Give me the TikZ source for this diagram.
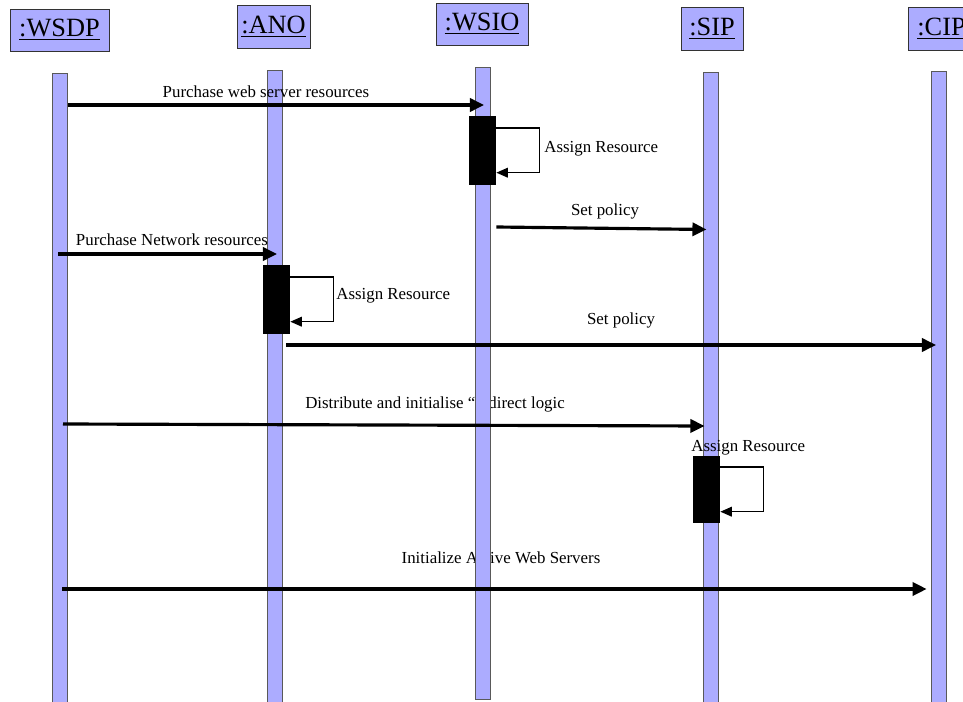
\documentclass[tikz,border=0pt]{standalone}
\usepackage{fontspec}
\setmainfont{Liberation Serif}
\usetikzlibrary{arrows.meta,positioning}
\definecolor{lifeblue}{RGB}{172,172,255}
\tikzset{head/.style={draw=black!80,fill=lifeblue,inner sep=0pt,font=\fontsize{15}{18}\selectfont},
    lifeline/.style={draw=black!65,fill=lifeblue,minimum width=0.3cm,inner sep=0pt,anchor=north},
    activ/.style={fill=black,minimum width=0.54cm,inner sep=0pt,anchor=north},
    msg/.style={line width=1.8pt,-{Triangle[length=8pt,width=7.5pt]}},
    selfmsg/.style={line width=0.8pt,-{Triangle[length=6.5pt,width=5.5pt]}},
    lbl/.style={font=\fontsize{9.6}{11}\selectfont,inner sep=0pt,anchor=base}}

\begin{document}
\begin{tikzpicture}[x=0.02cm,y=-0.02cm]
\useasboundingbox (0,0) rectangle (963,702);
\node[head,minimum width=1.98cm,minimum height=0.84cm] (wsdp) at (59.5,30) {\underline{:WSDP}};
\node[head,minimum width=1.46cm,minimum height=0.86cm] (ano) at (273.5,26.5) {\underline{:ANO}};
\node[head,minimum width=1.84cm,minimum height=0.84cm] (wsio) at (482,24) {\underline{:WSIO}};
\node[head,minimum width=1.24cm,minimum height=0.86cm] (sip) at (712,28.5) {\underline{:SIP}};
\node[head,minimum width=1.24cm,minimum height=0.86cm,anchor=west] (cip) at (908,28.5) {\,\underline{:CIP}\hfill};
\node[lbl] (l7) at (435,408) {Distribute and initialise “redirect logic};
\node[lbl] (l9) at (501,563) {Initialize Active Web Servers};
\node[lifeline,minimum height=12.8cm] (wsdpL) at (60,73) {};
\node[lifeline,minimum height=12.9cm] (anoL) at (275,70) {};
\node[lifeline,minimum height=12.64cm] (wsioL) at (482.5,67) {};
\node[lifeline,minimum height=12.8cm] (sipL) at (710.5,72) {};
\node[lifeline,minimum height=12.8cm] (cipL) at (938.5,71) {};
\node[activ,minimum height=1.38cm] (wsioA) at (482.5,116) {};
\node[activ,minimum height=1.38cm] (anoA) at (276.5,265) {};
\node[activ,minimum height=1.34cm] (sipA) at (706.5,456) {};
\draw[msg] (wsdpL.east |- 0,105) -- ([xshift=0.03cm]wsioL.center |- 0,105);
\node[lbl] (l1) at (266,98) {Purchase web server resources};
\draw[selfmsg] ([yshift=-0.24cm]wsioA.north east) -- ++(43,0) |- ([yshift=0.26cm]wsioA.south east);
\node[lbl,anchor=base west] (l2) at (544,153) {Assign Resource};
\draw[msg] (wsioA.east |- 0,227) -- ([xshift=-0.08cm]sipL.center |- 0,229.5);
\node[lbl] (l3) at (605,216) {Set policy};
\draw[msg] ([xshift=-0.04cm]wsdpL.center |- 0,254) -- ([xshift=0.04cm]anoL.center |- 0,254);
\node[lbl] (l4) at (172,246) {Purchase Network resources};
\draw[selfmsg] ([yshift=-0.24cm]anoA.north east) -- ++(43,0) |- ([yshift=0.26cm]anoA.south east);
\node[lbl,anchor=base west] (l5) at (336,300) {Assign Resource};
\draw[msg] ([xshift=-0.08cm]anoA.east |- 0,345) -- ([xshift=-0.05cm]cipL.center |- 0,345);
\node[lbl] (l6) at (621,325) {Set policy};
\draw[msg] ([xshift=0.06cm]wsdpL.center |- 0,424) -- ([xshift=-0.12cm]sipL.center |- 0,426);
\draw[selfmsg] ([yshift=-0.22cm]sipA.north east) -- ++(43,0) |- ([yshift=0.24cm]sipA.south east);
\node[lbl,anchor=base west] (l8) at (691,451) {Assign Resource};
\draw[msg] ([xshift=0.04cm]wsdpL.center |- 0,589) -- ([xshift=-0.08cm]cipL.west |- 0,589);
\end{tikzpicture}
\end{document}
